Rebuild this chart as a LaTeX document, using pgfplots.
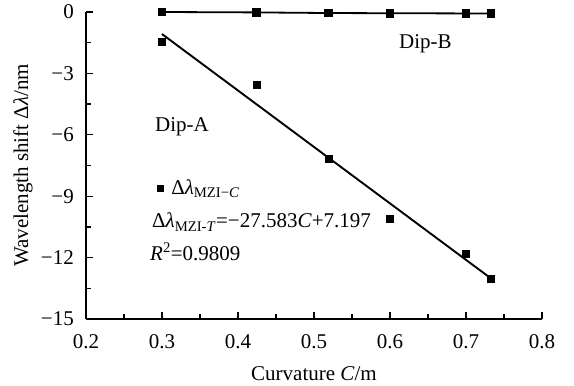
\documentclass[border=0pt]{standalone}
\usepackage{pgfplots}
\pgfplotsset{compat=1.18}
\usepackage{fontspec}
\setmainfont{Liberation Serif}
\begin{document}
\begin{tikzpicture}[font=\fontsize{21}{25}\selectfont]
\path[use as bounding box] (0,0) rectangle (574pt,386pt);
\begin{axis}[
  at={(86pt,67pt)}, anchor=south west,
  scale only axis, width=456pt, height=307pt,
  xmin=0.2, xmax=0.8, ymin=-15, ymax=0,
  axis x line=bottom, axis y line=left,
  axis line style={line width=1.5pt, -},
  tick align=inside,
  major tick length=7pt, minor tick length=5pt,
  every tick/.style={black, line width=1.3pt},
  xtick={0.2,0.3,0.4,0.5,0.6,0.7,0.8},
  xticklabels={0.2,0.3,0.4,0.5,0.6,0.7,0.8},
  ytick={-15,-12,-9,-6,-3,0},
  yticklabels={−15,−12,−9,−6,−3,0},
  minor x tick num=1, minor y tick num=1,
  xticklabel style={inner sep=0pt, anchor=north, yshift=-15pt},
  yticklabel style={inner sep=0pt, anchor=east, xshift=-12pt},
  xlabel={Curvature \textit{C}/m},
  ylabel={Wavelength shift Δ\textit{λ}/nm},
  every axis x label/.style={at={(axis description cs:0.5,-0.199)}, anchor=base},
  every axis y label/.style={at={(axis description cs:-0.127,0.5)}, anchor=base, rotate=90},
  clip=false,
  legend style={draw=none, fill=none, at={(axis cs:0.293,-8.6)}, anchor=west, inner sep=0pt},
  legend cell align=left,
]
% Dip-B
\addplot[black, line width=1.8pt, mark=square*, mark size=3.5pt, forget plot] coordinates {
(0.300,-0.00) (0.424,-0.02) (0.519,-0.05) (0.600,-0.06) (0.700,-0.07) (0.733,-0.07)};
% Dip-A data
\addplot[black, only marks, mark=square*, mark size=3.5pt,
  legend image code/.code={\fill[black] (-3pt,-3pt) rectangle (3pt,3pt); \path (9pt,0pt);}] coordinates {
(0.300,-1.43) (0.424,-3.57) (0.519,-7.18) (0.600,-10.08) (0.700,-11.79) (0.733,-13.03)};
\addlegendentry{Δ\textit{λ}\textsubscript{MZI−\textit{C}}}
% Dip-A fit
\addplot[black, line width=1.9pt, forget plot] coordinates {(0.300,-1.078) (0.733,-13.021)};
\node[anchor=base west, inner sep=0pt] at (axis cs:0.2908,-5.86) {Dip-A};
\node[anchor=base west, inner sep=0pt] at (axis cs:0.6118,-1.76) {Dip-B};
\node[anchor=base west, inner sep=0pt] at (axis cs:0.2868,-10.55) {Δ\textit{λ}\textsubscript{MZI-\textit{T}}=−27.583\textit{C}+7.197};
\node[anchor=base west, inner sep=0pt] at (axis cs:0.2842,-12.12) {\textit{R}\textsuperscript{2}=0.9809};
\end{axis}
\end{tikzpicture}
\end{document}
